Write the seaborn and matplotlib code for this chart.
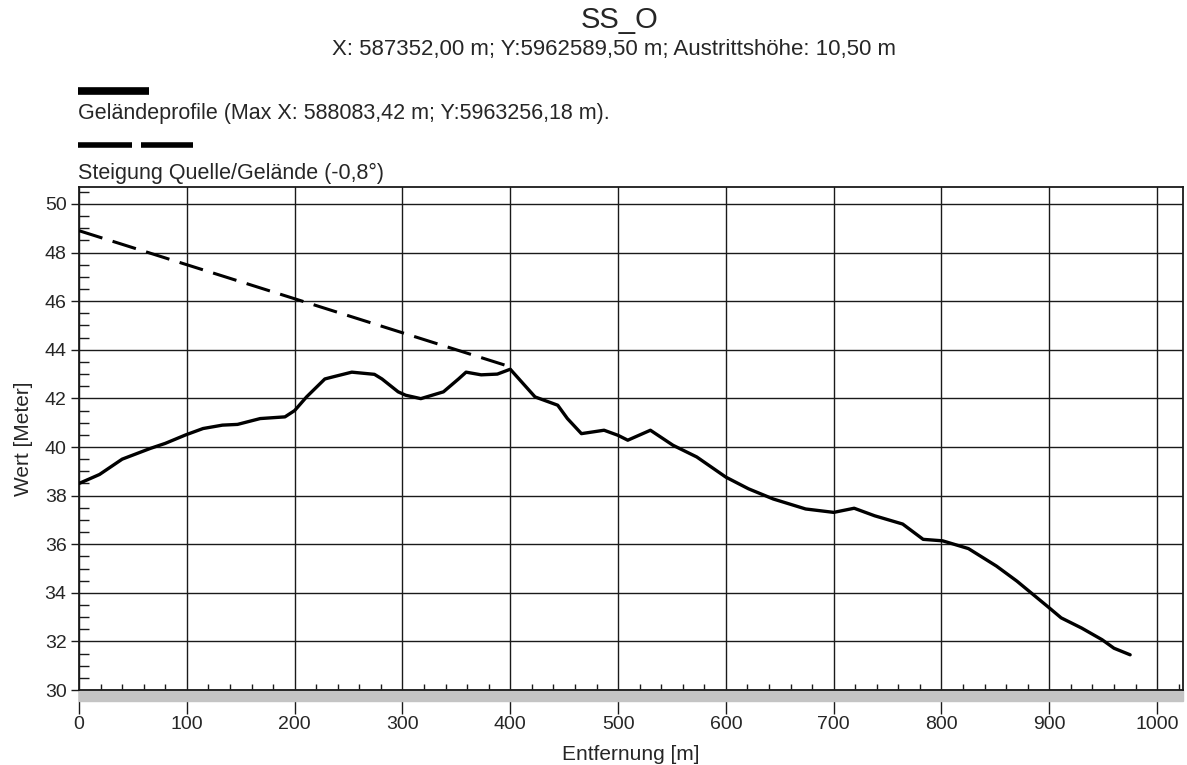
import numpy as np
import pandas as pd
import seaborn as sns
import matplotlib.pyplot as plt
from matplotlib.lines import Line2D
from matplotlib.patches import Rectangle
from matplotlib.ticker import MultipleLocator

# Geländeprofil (Entfernung in m, Höhe in m)
entfernung = [0, 19, 40, 66, 80, 99, 115, 133, 147, 168, 191, 200, 211, 228, 235, 253,
              274, 281, 296, 303, 317, 338, 352, 359, 373, 388, 400, 423, 444, 453, 466,
              487, 500, 509, 530, 551, 573, 600, 621, 644, 674, 700, 719, 738, 764, 783,
              801, 825, 851, 870, 900, 911, 930, 949, 960, 975]
hoehe = [38.5, 38.87, 39.5, 39.94, 40.15, 40.5, 40.76, 40.9, 40.93, 41.17, 41.24, 41.5,
         42.06, 42.8, 42.88, 43.08, 42.99, 42.8, 42.27, 42.13, 41.99, 42.27, 42.8, 43.08,
         42.97, 43.0, 43.2, 42.06, 41.72, 41.17, 40.55, 40.69, 40.48, 40.28, 40.69, 40.07,
         39.59, 38.76, 38.28, 37.86, 37.45, 37.31, 37.48, 37.17, 36.83, 36.2, 36.14, 35.82,
         35.1, 34.48, 33.38, 32.97, 32.55, 32.07, 31.72, 31.45]

# Steigung Quelle/Gelände
steigung_x = [0, 400]
steigung_y = [48.9, 43.3]

titel = "SS_O"
untertitel = "X: 587352,00 m; Y:5962589,50 m; Austrittshöhe: 10,50 m"
legende_profil = "Geländeprofile (Max X: 588083,42 m; Y:5963256,18 m)."
legende_steigung = "Steigung Quelle/Gelände (-0,8°)"

sns.set_style("white")
plt.rcParams['font.family'] = ['Liberation Sans', 'DejaVu Sans']

fig = plt.figure(figsize=(11.87, 7.65), dpi=100)
ax = fig.add_axes([0.0666, 0.098, 0.93, 0.6576])

df_profil = pd.DataFrame({"Entfernung": entfernung, "Hoehe": hoehe})
df_steig = pd.DataFrame({"Entfernung": steigung_x, "Hoehe": steigung_y})

sns.lineplot(data=df_profil, x="Entfernung", y="Hoehe", ax=ax, color="black",
             linewidth=2.4, zorder=4)
sns.lineplot(data=df_steig, x="Entfernung", y="Hoehe", ax=ax, color="black",
             linewidth=2.2, dashes=False, zorder=4)
ax.lines[-1].set_dashes((8, 3.5))

ax.set_xlim(0, 1024)
ax.set_ylim(30, 50.7)
ax.xaxis.set_major_locator(MultipleLocator(100))
ax.xaxis.set_minor_locator(MultipleLocator(20))
ax.yaxis.set_major_locator(MultipleLocator(2))
ax.yaxis.set_minor_locator(MultipleLocator(0.5))
ax.grid(True, which="major", color="#1a1a1a", linewidth=1.0)
ax.set_axisbelow(True)

ax.tick_params(axis="x", which="major", direction="out", length=17, width=1.0,
               pad=2, labelsize=14, color="#1a1a1a")
ax.tick_params(axis="x", which="minor", direction="in", length=4, width=1.0,
               color="#1a1a1a")
ax.tick_params(axis="y", which="major", direction="out", length=6, width=1.0,
               pad=3, labelsize=14, color="#1a1a1a")
ax.tick_params(axis="y", which="minor", direction="in", length=7, width=1.0,
               color="#1a1a1a")
ax.tick_params(bottom=True, left=True, which="both")
ax.set_xticklabels([str(int(v)) for v in ax.get_xticks()])
ax.set_yticklabels([str(int(v)) for v in ax.get_yticks()])

for s in ax.spines.values():
    s.set_color("#1a1a1a")
    s.set_linewidth(1.3)

# grauer Streifen unter der x-Achse
ax.add_patch(Rectangle((0, -0.022), 1, 0.022, transform=ax.transAxes,
                       color="#c4c4c4", clip_on=False, zorder=1))

ax.set_xlabel("Entfernung [m]", fontsize=15, labelpad=8)
ax.set_ylabel("Wert [Meter]", fontsize=15)
ax.yaxis.set_label_coords(-0.042, 0.5)

# Titel
fig.text(0.522, 1 - 28 / 765, titel, ha="center", va="baseline", fontsize=21)
fig.text(0.517, 1 - 55 / 765, untertitel, ha="center", va="baseline", fontsize=16)

# Legende
fig.add_artist(Line2D([78 / 1187, 149 / 1187], [1 - 90.5 / 765] * 2,
                      color="black", linewidth=5.5, solid_capstyle="butt"))
fig.text(78 / 1187, 1 - 113 / 765, legende_profil, ha="left", va="center", fontsize=15.5)
fig.add_artist(Line2D([78 / 1187, 132 / 1187], [1 - 144.5 / 765] * 2,
                      color="black", linewidth=4, solid_capstyle="butt"))
fig.add_artist(Line2D([141 / 1187, 193 / 1187], [1 - 144.5 / 765] * 2,
                      color="black", linewidth=4, solid_capstyle="butt"))
fig.text(78 / 1187, 1 - 173 / 765, legende_steigung, ha="left", va="center", fontsize=15.5)

fig.savefig("out.png", dpi=100)
